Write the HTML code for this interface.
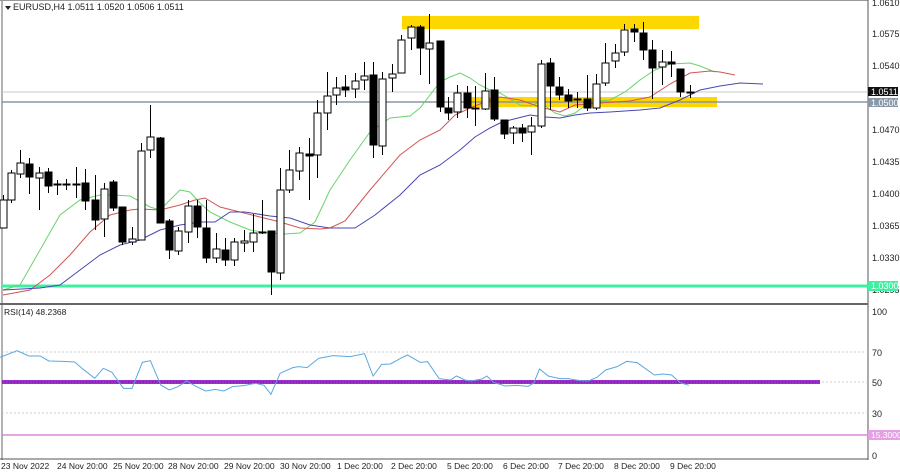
<!DOCTYPE html>
<html><head><meta charset="utf-8"><style>
html,body{margin:0;padding:0;background:#fff;}
svg{display:block;font-family:"Liberation Sans",sans-serif;}
</style></head><body>
<svg id="s" width="900" height="472" viewBox="0 0 900 472" xmlns="http://www.w3.org/2000/svg">
<rect x="0" y="0" width="900" height="472" fill="#fff"/>
<!-- borders -->
<line x1="2" y1="0" x2="2" y2="460" stroke="#666" stroke-width="1"/>
<line x1="0" y1="0.5" x2="868" y2="0.5" stroke="#999" stroke-width="1"/>
<line x1="868" y1="0" x2="868" y2="460" stroke="#555" stroke-width="1"/>
<line x1="0" y1="304" x2="868" y2="304" stroke="#666" stroke-width="2"/>
<line x1="0" y1="459" x2="868" y2="459" stroke="#555" stroke-width="1"/>
<!-- yellow zones -->
<rect x="402" y="16" width="297" height="13" fill="#ffd700"/>
<rect x="470" y="97" width="247" height="10" fill="#ffd700"/>
<!-- horizontal lines -->
<line x1="2" y1="92" x2="868" y2="92" stroke="#c8c8c8" stroke-width="1"/>
<line x1="2" y1="102" x2="868" y2="102" stroke="#8a96a0" stroke-width="1.5"/>
<line x1="2" y1="286" x2="868" y2="286" stroke="#3ef0a0" stroke-width="3"/>
<!-- MAs -->
<polyline fill="none" stroke="#6ad36a" stroke-width="1" points="3,290 20,285 40,250 60,215 80,200 100,195 113,195 130,196 150,207 160,210 170,200 180,190 190,192 200,203 210,212 230,222 250,230 262,232 270,233 285,234 300,233 315,222 330,190 350,160 370,132 390,118 410,116 420,108 440,82 450,77 460,73 470,78 480,85 490,90 500,93 510,99 520,105 530,106 540,102 555,113 565,116 575,113 590,102 610,100 625,92 640,80 655,70 670,64 690,63 700,66 715,72"/>
<polyline fill="none" stroke="#d05555" stroke-width="1" points="3,295 30,290 50,275 70,255 90,232 110,215 130,210 140,209 160,210 180,205 195,200 205,198 220,207 240,212 260,217 280,222 300,228 320,229 330,228 345,221 370,190 400,155 420,140 440,130 455,115 470,108 490,100 500,97 520,100 540,107 560,112 575,105 600,103 630,101 650,97 670,84 690,73 710,71 720,72 735,75"/>
<polyline fill="none" stroke="#4848b0" stroke-width="1" points="3,290 40,288 60,285 80,270 100,255 120,245 140,240 160,230 180,225 200,222 215,222 230,212 245,212 270,216 290,218 310,225 330,228 355,228 375,215 400,195 420,175 440,165 460,150 475,137 490,128 500,123 510,120 530,115 545,117 560,118 575,115 590,113 610,112 640,110 660,108 680,100 700,90 720,86 740,83 763,84"/>
<g id="candles"></g>
<!-- price axis labels -->
<g font-size="9" fill="#222">
<text x="872" y="6">1.0610</text>
<text x="872" y="37">1.0575</text>
<text x="872" y="69">1.0540</text>
<text x="872" y="133">1.0470</text>
<text x="872" y="165">1.0435</text>
<text x="872" y="197">1.0400</text>
<text x="872" y="229">1.0365</text>
<text x="872" y="261">1.0330</text>
<text x="872" y="293">1.0295</text>
</g>
<rect x="868" y="87" width="30" height="9" fill="#111"/>
<text x="871" y="95" font-size="9" fill="#fff">1.0511</text>
<rect x="868" y="98" width="30" height="9" fill="#8898a8"/>
<text x="871" y="106" font-size="9" fill="#fff">1.0500</text>
<rect x="868" y="281" width="30" height="10" fill="#3ef0a0"/>
<text x="871" y="289" font-size="9" fill="#fff">1.0300</text>
<!-- title -->
<polygon points="5,6 11,6 8,10" fill="#222"/>
<text x="13" y="10" font-size="9" fill="#222">EURUSD,H4  1.0511 1.0520 1.0506 1.0511</text>
<!-- RSI pane -->
<text x="4" y="315" font-size="8.5" fill="#222">RSI(14) 48.2368</text>
<line x1="2" y1="352" x2="868" y2="352" stroke="#ccc" stroke-dasharray="2,2"/>
<line x1="2" y1="382" x2="868" y2="382" stroke="#ccc" stroke-dasharray="2,2"/>
<line x1="2" y1="413" x2="868" y2="413" stroke="#ccc" stroke-dasharray="2,2"/>
<line x1="2" y1="435" x2="868" y2="435" stroke="#d58ad5" stroke-width="1.5"/>
<line x1="2" y1="382" x2="820" y2="382" stroke="#9a30c8" stroke-width="4"/>
<line x1="2" y1="382" x2="820" y2="382" stroke="#6a10a0" stroke-width="1" stroke-dasharray="1,2"/>
<polyline fill="none" stroke="#5aa8e0" stroke-width="1" vector-effect="non-scaling-stroke" transform="translate(0,300) scale(0.574,0.3333)" points="0,172 30,152 50,168 70,168 85,183 110,184 130,186 145,208 165,235 180,205 195,217 215,265 230,265 248,187 262,182 280,255 295,270 310,260 325,243 340,258 358,273 375,268 390,273 405,260 425,257 445,250 460,256 472,283 488,220 510,203 520,200 535,203 555,175 580,167 610,170 635,161 650,228 665,193 680,192 700,173 710,165 732,187 745,185 765,236 785,240 795,228 810,240 820,243 840,237 848,228 860,247 880,258 900,256 920,259 930,249 940,207 955,228 975,236 990,236 1010,242 1025,243 1040,232 1055,210 1075,200 1092,184 1110,188 1140,225 1155,222 1170,225 1185,248 1200,256"/>
<g font-size="9" fill="#222">
<text x="872" y="315">100</text>
<text x="872" y="356">70</text>
<text x="872" y="386">50</text>
<text x="872" y="417">30</text>
<text x="872" y="459">0</text>
</g>
<rect x="868" y="430" width="32" height="10" fill="#e3a0e3"/>
<text x="871" y="438" font-size="8.5" fill="#fff">15.3000</text>
<!-- time labels -->
<g font-size="8.5" fill="#222">
<text x="1" y="469">23 Nov 2022</text>
<text x="57" y="469">24 Nov 20:00</text>
<text x="113" y="469">25 Nov 20:00</text>
<text x="168" y="469">28 Nov 20:00</text>
<text x="224" y="469">29 Nov 20:00</text>
<text x="280" y="469">30 Nov 20:00</text>
<text x="337" y="469">1 Dec 20:00</text>
<text x="391" y="469">2 Dec 20:00</text>
<text x="447" y="469">5 Dec 20:00</text>
<text x="503" y="469">6 Dec 20:00</text>
<text x="558" y="469">7 Dec 20:00</text>
<text x="614" y="469">8 Dec 20:00</text>
<text x="670" y="469">9 Dec 20:00</text>
</g>
</svg>
<script>
var C=[
[3,195,200,228,0],[11,170,173,200,0],[20,150,163,174,0],[29,158,164,177,1],[39,167,173,178,0],[48,168,172,186,1],[57,180,184,185,1],[66,179,184,185,1],[76,167,184,185,1],[85,169,183,201,1],[95,175,200,220,1],[104,183,189,219,0],[113,180,182,208,1],[122,207,207,242,1],[132,227,239,242,0],[141,143,151,240,0],[150,105,137,150,0],[160,137,138,223,1],[169,219,221,250,1],[178,227,231,251,0],[188,200,206,232,0],[197,200,206,227,1],[206,200,228,258,1],[216,233,249,258,0],[225,238,250,260,1],[234,238,242,260,0],[244,230,241,243,0],[253,214,233,242,0],[262,200,232,233,1],[271,231,231,272,1],[280,168,190,273,0],[289,150,170,190,0],[299,147,153,171,0],[309,138,154,156,1],[317,100,113,155,0],[327,72,96,113,0],[336,77,88,95,0],[345,75,87,90,1],[355,73,81,89,0],[364,62,76,80,0],[373,62,75,145,1],[382,72,79,146,0],[392,64,74,78,0],[401,35,40,73,0],[411,25,27,38,0],[420,25,27,48,1],[429,14,43,49,0],[440,41,41,107,1],[448,97,108,113,1],[457,85,93,112,0],[467,86,93,108,1],[475,86,108,109,1],[485,73,91,109,0],[494,77,90,119,1],[504,120,120,134,1],[513,126,128,133,0],[522,124,128,133,1],[531,117,126,132,0],[541,60,64,126,0],[550,58,63,86,1],[559,77,87,95,1],[568,89,95,101,1],[577,92,99,100,1],[587,75,99,108,1],[596,74,84,108,0],[605,43,63,83,0],[615,44,53,61,0],[624,24,30,52,0],[634,24,29,32,1],[643,22,33,50,1],[652,40,50,68,1],[662,50,62,67,0],[671,51,62,64,1],[680,69,69,92,1],[690,85,92,93,1]];
var L=[[3,228],[11,203],[20,178],[29,194],[39,210],[48,193],[57,195],[66,190],[76,198],[85,210],[95,230],[104,237],[113,211],[122,245],[132,245],[141,240],[150,158],[160,223],[169,259],[178,255],[188,243],[197,238],[206,263],[216,263],[225,266],[234,266],[244,252],[253,252],[262,234],[271,295],[280,280],[289,193],[299,180],[309,200],[317,178],[327,130],[336,105],[345,97],[355,98],[364,90],[373,158],[382,155],[392,92],[401,73],[411,50],[420,75],[429,84],[440,112],[448,120],[457,118],[467,118],[475,126],[485,110],[494,121],[504,139],[513,144],[522,142],[531,155],[541,128],[550,110],[559,100],[568,108],[577,108],[587,111],[596,110],[605,86],[615,68],[624,56],[634,42],[643,60],[652,99],[662,85],[671,77],[680,97],[690,98]];
var g=document.getElementById('candles'),ns='http://www.w3.org/2000/svg',h='';
for(var i=0;i<C.length;i++){var c=C[i],x=c[0],lo=L[i][1];
var t=Math.min(c[2],c[3]),b=Math.max(c[2],c[3]);if(b-t<1)b=t+1;
h+='<line x1="'+(x+0.5)+'" y1="'+c[1]+'" x2="'+(x+0.5)+'" y2="'+lo+'" stroke="#000" stroke-width="1"/>';
h+='<rect x="'+(x-3)+'" y="'+t+'" width="7" height="'+(b-t)+'" fill="'+(c[4]?'#000':'#fff')+'" stroke="#000" stroke-width="1"/>';}
g.innerHTML=h;
</script>
</body></html>
